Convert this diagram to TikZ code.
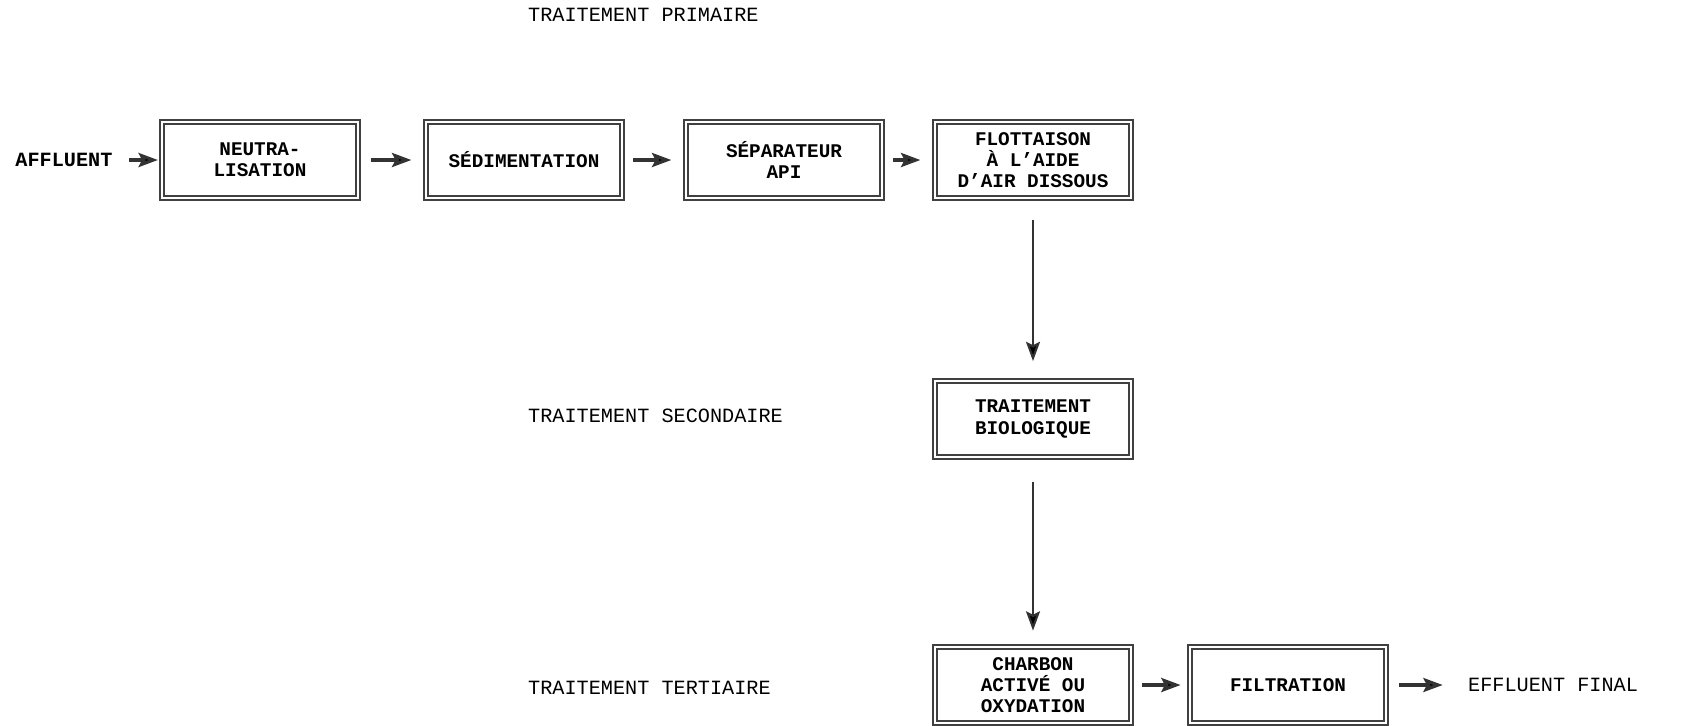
\documentclass[tikz,border=0pt]{standalone}
\usepackage{fontspec}
\setmainfont{Liberation Mono}
\usetikzlibrary{arrows.meta}
\begin{document}
\begin{tikzpicture}[x=0.02cm, y=-0.02cm,
  stage/.style={shape=rectangle, draw=black!75, double, double distance=1.6pt, line width=0.7pt,
    minimum width=3.92cm, minimum height=1.52cm, align=center, font=\fontsize{11}{12}\selectfont\bfseries},
  lbl/.style={font=\fontsize{11.5}{13}\selectfont},
  flow/.style={-{Stealth[length=11pt,width=8pt,inset=2pt]}, line width=1.8pt, draw=black!80}]
\useasboundingbox (0,0) rectangle (1698,725);
\node[lbl, anchor=west] (P) at (522,15) {TRAITEMENT PRIMAIRE};
\node[lbl, anchor=west] (S) at (522,416) {TRAITEMENT SECONDAIRE};
\node[lbl, anchor=west] (T) at (522,688) {TRAITEMENT TERTIAIRE};
\node[lbl, font=\fontsize{11.5}{13}\selectfont\bfseries] (in) at (64,160) {AFFLUENT};
\node[stage] (neut) at (260,160) {NEUTRA-\\LISATION};
\node[stage] (sed) at (524,160) {SÉDIMENTATION};
\node[stage] (api) at (784,160) {SÉPARATEUR\\API};
\node[stage] (flot) at (1033,160) {FLOTTAISON\\À L'AIDE\\D'AIR DISSOUS};
\node[stage] (bio) at (1033,419) {TRAITEMENT\\BIOLOGIQUE};
\node[stage] (carb) at (1033,685) {CHARBON\\ACTIVÉ OU\\OXYDATION};
\node[stage] (filt) at (1288,685) {FILTRATION};
\node[lbl, anchor=west] (out) at (1462,685) {EFFLUENT FINAL};
\path [flow, shorten <=6pt, shorten >=2pt] (in) edge (neut);
\path [flow, shorten <=7pt, shorten >=8pt] (neut) edge (sed);
\path [flow, shorten <=6pt, shorten >=8pt] (sed) edge (api);
\path [flow, shorten <=6pt, shorten >=8pt] (api) edge (flot);
\path [flow, line width=1.2pt, shorten <=12pt, shorten >=11pt] (flot) edge (bio);
\path [flow, line width=1.2pt, shorten <=14pt, shorten >=9pt] (bio) edge (carb);
\path [flow, shorten <=6pt, shorten >=5pt] (carb) edge (filt);
\path [flow, shorten <=7pt, shorten >=11pt] (filt) edge (out);
\end{tikzpicture}
\end{document}
